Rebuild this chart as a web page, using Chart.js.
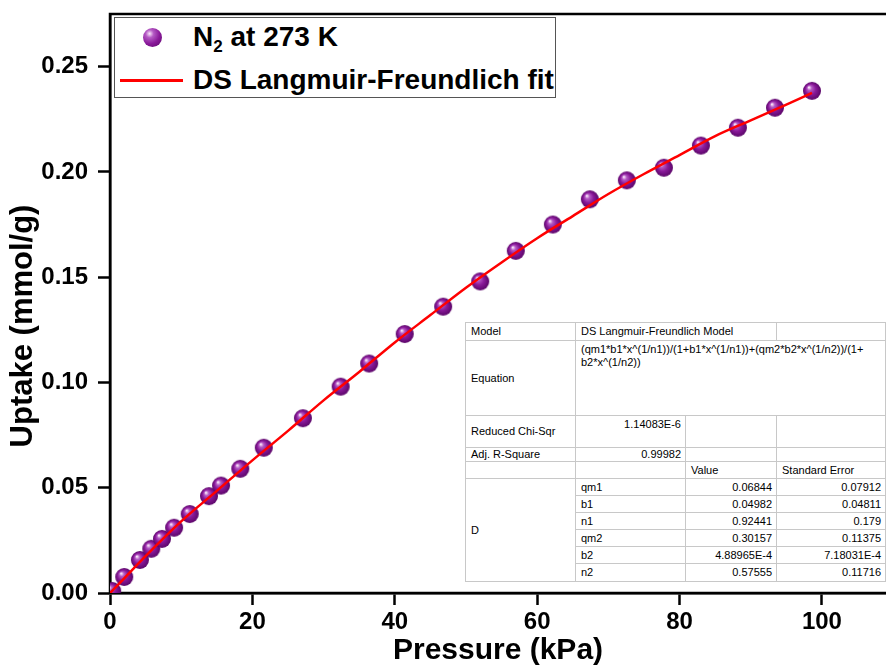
<!DOCTYPE html>
<html>
<head>
<meta charset="utf-8">
<script src="https://cdn.jsdelivr.net/npm/chart.js@4.4.1/dist/chart.umd.min.js"></script>
<style>
  body { margin: 0; background: #fff; }
  #wrap { position: relative; width: 886px; height: 669px; overflow: hidden; font-family: "Liberation Sans", Arial, sans-serif; }
  #chart { position: absolute; left: 0; top: 0; }
  #legend { position: absolute; left: 114px; top: 17px; width: 440px; height: 79px; border: 1px solid #555; background: #fff; }
  #legend .txt { position: absolute; left: 78px; font-size: 28px; font-weight: bold; color: #000; white-space: nowrap; line-height: 32px; }
  #legend sub { font-size: 17px; vertical-align: -6px; line-height: 0; }
  #legend .ball { position: absolute; left: 28px; top: 10px; width: 19px; height: 19px; border-radius: 50%;
    background: radial-gradient(circle at 35% 30%, #fbe8fb 0%, #b45ac4 22%, #8a1a9a 55%, #5a0568 100%); }
  #legend .fitline { position: absolute; left: 5px; top: 61px; width: 63px; height: 3px; background: #ff0000; }
  #stats { position: absolute; left: 465px; top: 322px; width: 420px; border-collapse: collapse; background: #fff;
    font-size: 11px; color: #000; border: 1px solid #555; table-layout: fixed; }
  #stats td { border: 1px solid #c8c8c8; padding: 0 4px 0 5px; white-space: nowrap; line-height: 13px; }
  #stats td.num { text-align: right; }
  #stats td.top { vertical-align: top; }
</style>
</head>
<body>
<div id="wrap">
  <canvas id="chart" width="886" height="669"></canvas>
  <div id="legend">
    <div class="ball"></div>
    <div class="txt" style="top:3px;">N<sub>2</sub> at 273 K</div>
    <div class="fitline"></div>
    <div class="txt" style="top:46px;">DS Langmuir-Freundlich fit</div>
  </div>
  <table id="stats">
    <colgroup><col style="width:110px"><col style="width:110px"><col style="width:91px"><col style="width:109px"></colgroup>
    <tr style="height:18px"><td>Model</td><td colspan="2">DS Langmuir-Freundlich Model</td><td></td></tr>
    <tr style="height:75px"><td>Equation</td><td colspan="3" class="top" style="padding-top:2px">(qm1*b1*x^(1/n1))/(1+b1*x^(1/n1))+(qm2*b2*x^(1/n2))/(1+<br>b2*x^(1/n2))</td></tr>
    <tr style="height:32px"><td>Reduced Chi-Sqr</td><td class="num top" style="padding-top:2px">1.14083E-6</td><td></td><td></td></tr>
    <tr style="height:14px"><td>Adj. R-Square</td><td class="num">0.99982</td><td></td><td></td></tr>
    <tr style="height:17px"><td></td><td></td><td>Value</td><td>Standard Error</td></tr>
    <tr style="height:17px"><td rowspan="6">D</td><td>qm1</td><td class="num">0.06844</td><td class="num">0.07912</td></tr>
    <tr style="height:17px"><td>b1</td><td class="num">0.04982</td><td class="num">0.04811</td></tr>
    <tr style="height:17px"><td>n1</td><td class="num">0.92441</td><td class="num">0.179</td></tr>
    <tr style="height:17px"><td>qm2</td><td class="num">0.30157</td><td class="num">0.11375</td></tr>
    <tr style="height:17px"><td>b2</td><td class="num">4.88965E-4</td><td class="num">7.18031E-4</td></tr>
    <tr style="height:18px"><td>n2</td><td class="num">0.57555</td><td class="num">0.11716</td></tr>
  </table>
</div>
<script>
// measured N2 uptake at 273 K (pressure in kPa, uptake in mmol/g)
var pressure = [0.3, 2.0, 4.2, 5.8, 7.3, 9.0, 11.2, 13.9, 15.6, 18.3, 21.6, 27.1, 32.4, 36.4, 41.4,
                46.8, 52.0, 57.0, 62.2, 67.4, 72.6, 77.8, 83.0, 88.2, 93.4, 98.6];
var uptake = [0.001, 0.0076, 0.0157, 0.021, 0.0257, 0.031, 0.0375, 0.046, 0.051, 0.059, 0.069, 0.083, 0.098, 0.109, 0.123,
              0.136, 0.148, 0.1625, 0.175, 0.187, 0.196, 0.202, 0.2125, 0.221, 0.2305, 0.2385];

// fit curve
var fitPressure = [0, 2, 5, 10, 15, 20, 25, 30, 35, 40, 45, 50, 55, 60, 65, 70, 75, 80, 85, 90, 95, 98.6];
var fitUptake = [0, 0.007, 0.0175, 0.034, 0.0485, 0.063, 0.077, 0.0915, 0.105, 0.119, 0.132, 0.145, 0.157,
                 0.1685, 0.179, 0.1895, 0.199, 0.208, 0.217, 0.2245, 0.232, 0.2375];

var xTicks = [0, 20, 40, 60, 80, 100];
var yTicks = [0, 0.05, 0.10, 0.15, 0.20, 0.25];
var yTickLabels = ['0.00', '0.05', '0.10', '0.15', '0.20', '0.25'];
var yTitle = 'Uptake (mmol/g)';

var fontFamily = '"Liberation Sans", Arial, sans-serif';

// shaded purple ball used as the marker
function makeSphere(r) {
    var c = document.createElement('canvas');
    c.width = c.height = 2 * r + 2;
    var g = c.getContext('2d');
    var cx = r + 1, cy = r + 1;
    var grad = g.createRadialGradient(cx - r * 0.35, cy - r * 0.4, r * 0.05, cx, cy, r);
    grad.addColorStop(0, '#fbe8fb');
    grad.addColorStop(0.22, '#b45ac4');
    grad.addColorStop(0.55, '#8a1a9a');
    grad.addColorStop(1, '#5a0568');
    g.fillStyle = grad;
    g.beginPath();
    g.arc(cx, cy, r, 0, Math.PI * 2);
    g.fill();
    return c;
}

var points = pressure.map(function(p, i) { return {x: p, y: uptake[i]}; });
var fit = fitPressure.map(function(p, i) { return {x: p, y: fitUptake[i]}; });

// black box round the plot area, and the y title (sits a bit below the axis middle)
var frame = {
    id: 'frame',
    beforeDatasetsDraw: function(chart) {
        var a = chart.chartArea, ctx = chart.ctx;
        ctx.save();
        ctx.strokeStyle = '#000';
        ctx.lineWidth = 2.5;
        ctx.strokeRect(a.left, a.top, a.right - a.left + 4, a.bottom - a.top);
        ctx.translate(23, 326);
        ctx.rotate(-Math.PI / 2);
        ctx.font = 'bold 31px ' + fontFamily;
        ctx.fillStyle = '#000';
        ctx.textAlign = 'center';
        ctx.textBaseline = 'middle';
        ctx.fillText(yTitle, 0, 0);
        ctx.restore();
    }
};

new Chart(document.getElementById('chart'), {
    type: 'scatter',
    data: {
        datasets: [{
            label: 'N2 at 273 K',
            data: points,
            pointStyle: makeSphere(9),
            pointRadius: 9,
            showLine: false,
            order: 1
        }, {
            label: 'DS Langmuir-Freundlich fit',
            type: 'line',
            data: fit,
            borderColor: '#ff0000',
            borderWidth: 2.5,
            pointRadius: 0,
            fill: false,
            cubicInterpolationMode: 'monotone',
            order: 0
        }]
    },
    options: {
        responsive: false,
        devicePixelRatio: 1,
        animation: false,
        layout: { autoPadding: false, padding: { top: 14, right: 0, left: 0, bottom: 0 } },
        plugins: { legend: { display: false }, tooltip: { enabled: false } },
        scales: {
            x: {
                type: 'linear',
                min: 0,
                max: 109,
                afterBuildTicks: function(s) { s.ticks = xTicks.map(function(v) { return {value: v}; }); },
                afterFit: function(s) { s.height = 76; s.paddingLeft = 0; s.paddingRight = 0; },
                grid: { drawOnChartArea: false, tickLength: 12, tickWidth: 2.5, tickColor: '#000' },
                border: { color: '#000', width: 2.5 },
                ticks: { color: '#000', padding: 3, maxRotation: 0, font: { family: fontFamily, size: 24, weight: 'bold' } },
                title: { display: true, text: 'Pressure (kPa)', color: '#000', padding: { top: 0, bottom: 0 },
                         font: { family: fontFamily, size: 30, weight: 'bold' } }
            },
            y: {
                type: 'linear',
                min: 0,
                max: 0.275,
                afterBuildTicks: function(s) { s.ticks = yTicks.map(function(v) { return {value: v}; }); },
                afterFit: function(s) { s.width = 110; s.paddingTop = 0; s.paddingBottom = 0; },
                grid: { drawOnChartArea: false, tickLength: 12, tickWidth: 2.5, tickColor: '#000' },
                border: { color: '#000', width: 2.5 },
                ticks: {
                    color: '#000', padding: 10,
                    font: { family: fontFamily, size: 24, weight: 'bold' },
                    callback: function(v, i) { return yTickLabels[i]; }
                },
                title: { display: false }
            }
        }
    },
    plugins: [frame]
});
</script>
</body>
</html>
